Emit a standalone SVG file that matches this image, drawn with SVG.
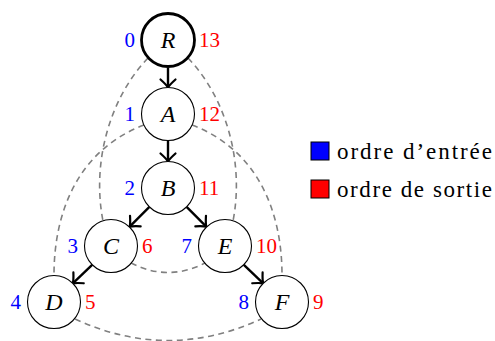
<svg xmlns="http://www.w3.org/2000/svg" width="495" height="341" viewBox="0 0 495 341">
  <defs>
    <marker id="tip" markerUnits="userSpaceOnUse" viewBox="-10 -10 14 20" markerWidth="14" markerHeight="20" refX="0" refY="0" orient="auto" overflow="visible">
      <path d="M -8,-7.5 C -4,-3 -1,-0.6 0,0 C -1,0.6 -4,3 -8,7.5" fill="none" stroke="#000" stroke-width="2.2" stroke-linecap="round" stroke-linejoin="round"/>
    </marker>
    <style>
      .node circle { fill: #fff; stroke: #000; stroke-width: 1.1; }
      .node.root circle { stroke-width: 2.8; }
      .serif { font-family: 'Liberation Serif', 'Times New Roman', Tinos, 'Noto Serif', 'DejaVu Serif', FreeSerif, Times, serif; }
      .name { font-style: italic; font-size: 24px; text-anchor: middle; fill: #000; }
      .in { font-size: 21px; text-anchor: end; fill: #0000ff; }
      .out { font-size: 21px; text-anchor: start; fill: #ff0000; }
      .walk { fill: none; stroke: #808080; stroke-width: 1.6; stroke-dasharray: 6 4.5; }
      .edge { fill: none; stroke: #000; stroke-width: 2.4; marker-end: url(#tip); }
      .legend-text { font-size: 23px; fill: #000; }
    </style>
  </defs>

  <!-- depth-first walk around the tree -->
  <g id="walk">
    <path class="walk" d="M 148,58 C 108,100 92,165 103,221"/>
    <path class="walk" d="M 188,58 C 228,100 244,165 233,221"/>
    <path class="walk" d="M 144,125 C 78,150 54,212 54,275"/>
    <path class="walk" d="M 192,125 C 258,150 282,212 282,275"/>
    <path class="walk" d="M 131,263 Q 168,282 205,263"/>
    <path class="walk" d="M 75,319 Q 168,362 261,319"/>
  </g>

  <!-- tree edges -->
  <g id="edges">
    <line class="edge" x1="168" y1="68" x2="168" y2="87.5"/>
    <line class="edge" x1="168" y1="140.5" x2="168" y2="161.5"/>
    <line class="edge" x1="149.4" y1="206.9" x2="129.7" y2="226.7"/>
    <line class="edge" x1="186.6" y1="206.9" x2="206.3" y2="226.7"/>
    <line class="edge" x1="92.4" y1="264.6" x2="72.8" y2="283.4"/>
    <line class="edge" x1="243.6" y1="264.6" x2="263.2" y2="283.4"/>
  </g>

  <g id="R" class="node root serif" font-family="Liberation Serif, serif">
    <circle cx="168" cy="40" r="26.5"/>
    <text class="name" x="168" y="48">R</text>
    <text class="in" x="135" y="47">0</text>
    <text class="out" x="199" y="47">13</text>
  </g>
  <g id="A" class="node serif">
    <circle cx="168" cy="114" r="26.5"/>
    <text class="name" x="168" y="122">A</text>
    <text class="in" x="135" y="121">1</text>
    <text class="out" x="199" y="121">12</text>
  </g>
  <g id="B" class="node serif">
    <circle cx="168" cy="188" r="26.5"/>
    <text class="name" x="168" y="196">B</text>
    <text class="in" x="135" y="195">2</text>
    <text class="out" x="199" y="195">11</text>
  </g>
  <g id="C" class="node serif">
    <circle cx="111" cy="246" r="26.5"/>
    <text class="name" x="111" y="254">C</text>
    <text class="in" x="78" y="253">3</text>
    <text class="out" x="142" y="253">6</text>
  </g>
  <g id="E" class="node serif">
    <circle cx="225" cy="246" r="26.5"/>
    <text class="name" x="225" y="254">E</text>
    <text class="in" x="192" y="253">7</text>
    <text class="out" x="256" y="253">10</text>
  </g>
  <g id="D" class="node serif">
    <circle cx="54" cy="302" r="26.5"/>
    <text class="name" x="54" y="310">D</text>
    <text class="in" x="21" y="309">4</text>
    <text class="out" x="85" y="309">5</text>
  </g>
  <g id="F" class="node serif">
    <circle cx="282" cy="302" r="26.5"/>
    <text class="name" x="282" y="310">F</text>
    <text class="in" x="249" y="309">8</text>
    <text class="out" x="313" y="309">9</text>
  </g>

  <g id="legend" class="serif">
    <rect x="311" y="142" width="18" height="18" fill="#0000ff" stroke="#000" stroke-width="1"/>
    <text class="legend-text" x="337" y="159" textLength="155" lengthAdjust="spacing">ordre d’entrée</text>
    <rect x="311" y="180" width="18" height="18" fill="#ff0000" stroke="#000" stroke-width="1"/>
    <text class="legend-text" x="337" y="197" textLength="155" lengthAdjust="spacing">ordre de sortie</text>
  </g>
</svg>
